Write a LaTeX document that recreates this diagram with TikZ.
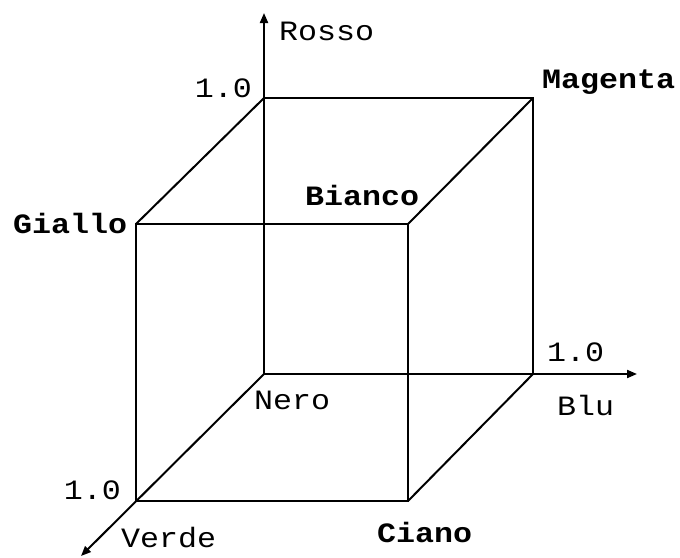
\documentclass[tikz,border=0pt]{standalone}
\usepackage{fontspec}
\setmonofont[FakeStretch=1.13]{Liberation Mono}
\usetikzlibrary{arrows.meta}
\begin{document}
\begin{tikzpicture}[x=1pt,y=-1pt,
  edge/.style={line width=2pt,black},
  axis/.style={edge,-{Triangle[length=10pt,width=8pt]}},
  lab/.style={inner sep=0pt,font=\fontsize{28}{30}\selectfont\ttfamily},
  blab/.style={lab,font=\fontsize{28}{30}\selectfont\ttfamily\bfseries}]
\useasboundingbox (0,0) rectangle (680,557);
\coordinate (O) at (264,374);
\coordinate (R) at (264,98);
\coordinate (B) at (533,374);
\coordinate (M) at (533,98);
\coordinate (G) at (136,224);
\coordinate (W) at (408,224);
\coordinate (V) at (136,501);
\coordinate (C) at (408,501);
\coordinate (Rend) at (264,13);
\coordinate (Bend) at (637,374);
\coordinate (Vend) at (81,556);
% axes
\draw[axis] (O) -- (Rend);
\draw[axis] (O) -- (Bend);
\draw[axis] (O) -- (Vend);
% back face
\draw[edge] (R) -- (M) -- (B);
% front face
\draw[edge] (G) -- (W) -- (C) -- (V) -- cycle;
% diagonals
\draw[edge] (R) -- (G);
\draw[edge] (M) -- (W);
\draw[edge] (B) -- (C);
% labels
\node[lab,anchor=west] (lRosso) at (279,31) {Rosso};
\node[lab,anchor=east] (l1a) at (252,88) {1.0};
\node[blab,anchor=west] (lMagenta) at (542,82) {Magenta};
\node[blab,anchor=west] (lBianco) at (305,195) {Bianco};
\node[blab,anchor=west] (lGiallo) at (13,223) {Giallo};
\node[lab,anchor=west] (l1b) at (547,352) {1.0};
\node[lab,anchor=west] (lBlu) at (557,405) {Blu};
\node[lab,anchor=west] (lNero) at (254,400) {Nero};
\node[lab,anchor=east] (l1c) at (121,490) {1.0};
\node[lab,anchor=west] (lVerde) at (121,538) {Verde};
\node[blab,anchor=west] (lCiano) at (377,532) {Ciano};
\end{tikzpicture}
\end{document}
